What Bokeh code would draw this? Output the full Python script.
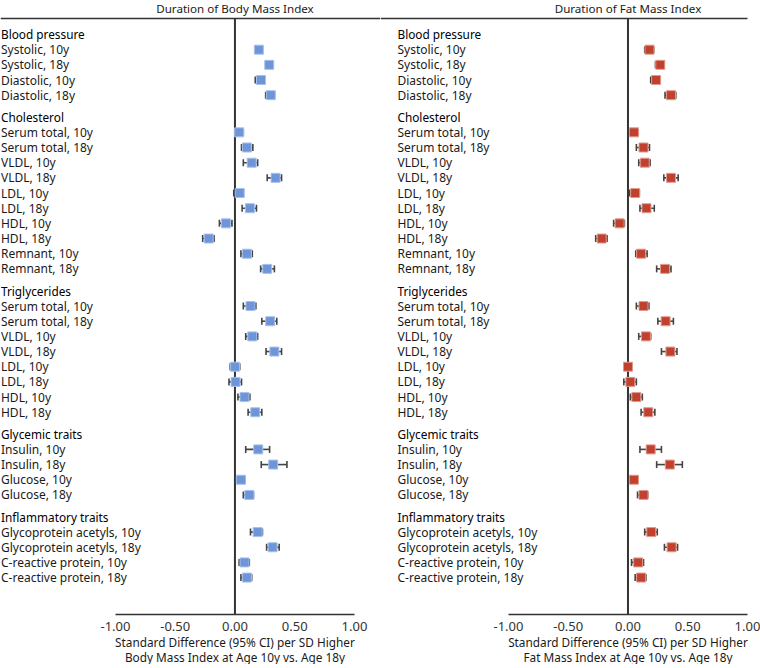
from bokeh.plotting import figure
from bokeh.models import ColumnDataSource, Range1d, FixedTicker, NumeralTickFormatter, Whisker, TeeHead
from bokeh.layouts import row, column
from bokeh.core.properties import value
from bokeh.embed import file_html
from bokeh.resources import INLINE

# ---------------- data ----------------
group_names = ["Blood pressure", "Cholesterol", "Triglycerides", "Glycemic traits", "Inflammatory traits"]
group_items = [
    ["Systolic, 10y", "Systolic, 18y", "Diastolic, 10y", "Diastolic, 18y"],
    ["Serum total, 10y", "Serum total, 18y", "VLDL, 10y", "VLDL, 18y", "LDL, 10y", "LDL, 18y",
     "HDL, 10y", "HDL, 18y", "Remnant, 10y", "Remnant, 18y"],
    ["Serum total, 10y", "Serum total, 18y", "VLDL, 10y", "VLDL, 18y", "LDL, 10y", "LDL, 18y",
     "HDL, 10y", "HDL, 18y"],
    ["Insulin, 10y", "Insulin, 18y", "Glucose, 10y", "Glucose, 18y"],
    ["Glycoprotein acetyls, 10y", "Glycoprotein acetyls, 18y", "C-reactive protein, 10y", "C-reactive protein, 18y"],
]

bmi_est = [0.20, 0.287, 0.218, 0.30,
           0.035, 0.10, 0.14, 0.34, 0.04, 0.125, -0.075, -0.22, 0.10, 0.27,
           0.13, 0.295, 0.145, 0.33, 0.00, 0.005, 0.08, 0.17,
           0.195, 0.32, 0.05, 0.12,
           0.19, 0.315, 0.08, 0.10]
bmi_lo = [0.188, 0.275, 0.17, 0.257,
          0.005, 0.055, 0.07, 0.27, -0.01, 0.06, -0.13, -0.27, 0.05, 0.215,
          0.07, 0.225, 0.09, 0.26, -0.04, -0.05, 0.025, 0.11,
          0.09, 0.22, 0.015, 0.07,
          0.13, 0.265, 0.035, 0.05]
bmi_hi = [0.225, 0.31, 0.25, 0.33,
          0.07, 0.15, 0.19, 0.39, 0.07, 0.18, -0.025, -0.175, 0.145, 0.33,
          0.175, 0.35, 0.19, 0.39, 0.04, 0.055, 0.125, 0.225,
          0.29, 0.435, 0.085, 0.155,
          0.23, 0.37, 0.12, 0.14]

fmi_est = [0.18, 0.27, 0.235, 0.36,
           0.05, 0.13, 0.14, 0.36, 0.06, 0.155, -0.07, -0.22, 0.11, 0.31,
           0.13, 0.315, 0.15, 0.355, 0.00, 0.02, 0.07, 0.17,
           0.19, 0.35, 0.05, 0.13,
           0.195, 0.365, 0.085, 0.11]
fmi_lo = [0.14, 0.23, 0.19, 0.31,
          0.015, 0.07, 0.09, 0.30, 0.015, 0.10, -0.12, -0.27, 0.065, 0.24,
          0.07, 0.25, 0.09, 0.28, -0.035, -0.035, 0.02, 0.11,
          0.10, 0.24, 0.015, 0.08,
          0.14, 0.305, 0.03, 0.06]
fmi_hi = [0.215, 0.30, 0.27, 0.40,
          0.086, 0.18, 0.185, 0.42, 0.095, 0.22, -0.03, -0.175, 0.16, 0.36,
          0.175, 0.38, 0.19, 0.41, 0.035, 0.07, 0.12, 0.225,
          0.28, 0.455, 0.085, 0.165,
          0.245, 0.415, 0.13, 0.15]

x_ticks = [-1.0, -0.5, 0.0, 0.5, 1.0]
panel_titles = ["Duration of Body Mass Index", "Duration of Fat Mass Index"]
axis_titles = [["Standard Difference (95% CI) per SD Higher", "Body Mass Index at Age 10y vs. Age 18y"],
               ["Standard Difference (95% CI) per SD Higher", "Fat Mass Index at Age 10y vs. Age 18y"]]

# ---------------- layout of rows ----------------
header_y, item_y, item_labels = [], [], []
cursor = 0.0
for g, items in zip(group_names, group_items):
    header_y.append(cursor)
    cursor += 1
    for it in items:
        item_y.append(cursor)
        item_labels.append(it)
        cursor += 1
    cursor += 0.45

FONT = "Noto Sans"
TXT = "#1a1a1a"
Y_TOP, Y_BOT = -2.241, 38.233
LINE_Y = -1.055
HEAD_Y = -1.714
FW, FH = 380, 614


def make_panel(est, lo, hi, color, edge, title, xr, label_x, top_line_end):
    p = figure(frame_width=FW, frame_height=FH, x_range=xr, y_range=Range1d(Y_BOT, Y_TOP),
               output_backend="svg", toolbar_location=None, y_axis_location=None,
               min_border=0, min_border_left=0, min_border_right=0, min_border_top=0, min_border_bottom=0)
    p.outline_line_color = None
    p.xgrid.visible = False
    p.ygrid.visible = False
    ax = p.xaxis[0]
    ax.ticker = FixedTicker(ticks=x_ticks)
    ax.formatter = NumeralTickFormatter(format="0.00")
    ax.bounds = (-1, 1)
    ax.major_tick_out = 0
    ax.major_tick_in = 0
    ax.minor_tick_out = 0
    ax.minor_tick_in = 0
    ax.axis_line_color = "#333333"
    ax.axis_line_width = 1.5
    ax.major_label_standoff = 7
    ax.major_label_text_font = FONT
    ax.major_label_text_font_size = "13px"
    ax.major_label_text_color = "#333333"

    # header and frame lines
    p.text(x=[0], y=[HEAD_Y], text=[title], text_align="center", text_baseline="middle",
           text_font=value(FONT), text_font_size="11.6px", text_color=TXT)
    p.segment(x0=[xr.start], y0=[LINE_Y], x1=[top_line_end], y1=[LINE_Y], line_color="#333333", line_width=1.5)
    p.segment(x0=[0], y0=[LINE_Y], x1=[0], y1=[Y_BOT], line_color="#333333", line_width=2)

    # labels
    p.text(x=[label_x] * len(group_names), y=header_y, text=group_names, text_align="left",
           text_baseline="middle", text_font=value(FONT), text_font_size="11.8px", text_color="#000000")
    p.text(x=[label_x] * len(item_labels), y=item_y, text=item_labels, text_align="left",
           text_baseline="middle", text_font=value(FONT), text_font_size="12px", text_color=TXT)

    src = ColumnDataSource(dict(y=item_y, est=est, lo=lo, hi=hi))
    w = Whisker(source=src, base="y", lower="lo", upper="hi", dimension="width", level="underlay",
                line_color="#444444", line_width=1.6,
                lower_head=TeeHead(size=7, line_color="#444444", line_width=1.6),
                upper_head=TeeHead(size=7, line_color="#444444", line_width=1.6))
    p.add_layout(w)
    p.scatter(x="est", y="y", source=src, marker="square", size=9, fill_color=color,
              line_color=edge, line_width=1.0)
    return p


def make_title(lines, xr):
    t = figure(frame_width=FW, frame_height=31, x_range=xr, y_range=Range1d(31, 0),
               output_backend="svg", toolbar_location=None, x_axis_location=None, y_axis_location=None,
               min_border=0, min_border_left=0, min_border_right=0, min_border_top=0, min_border_bottom=0)
    t.outline_line_color = None
    t.xgrid.visible = False
    t.ygrid.visible = False
    t.text(x=[0, 0], y=[8, 23.5], text=lines, text_align="center", text_baseline="middle",
           text_font=value(FONT), text_font_size="11.8px", text_color=TXT)
    return t


xr_left = Range1d(-1.962, 1.218)
xr_right = Range1d(-2.071, 1.109)

pl = make_panel(bmi_est, bmi_lo, bmi_hi, "#6d95d8", "#a8c0ec", panel_titles[0], xr_left, -1.958, xr_left.end)
pr = make_panel(fmi_est, fmi_lo, fmi_hi, "#c1412f", "#e29a8f", panel_titles[1], xr_right, -1.929, 1.0)
tl = make_title(axis_titles[0], xr_left)
tr = make_title(axis_titles[1], xr_right)

layout = row(column(pl, tl), column(pr, tr))
open("out.html", "w").write(file_html(layout, INLINE))
